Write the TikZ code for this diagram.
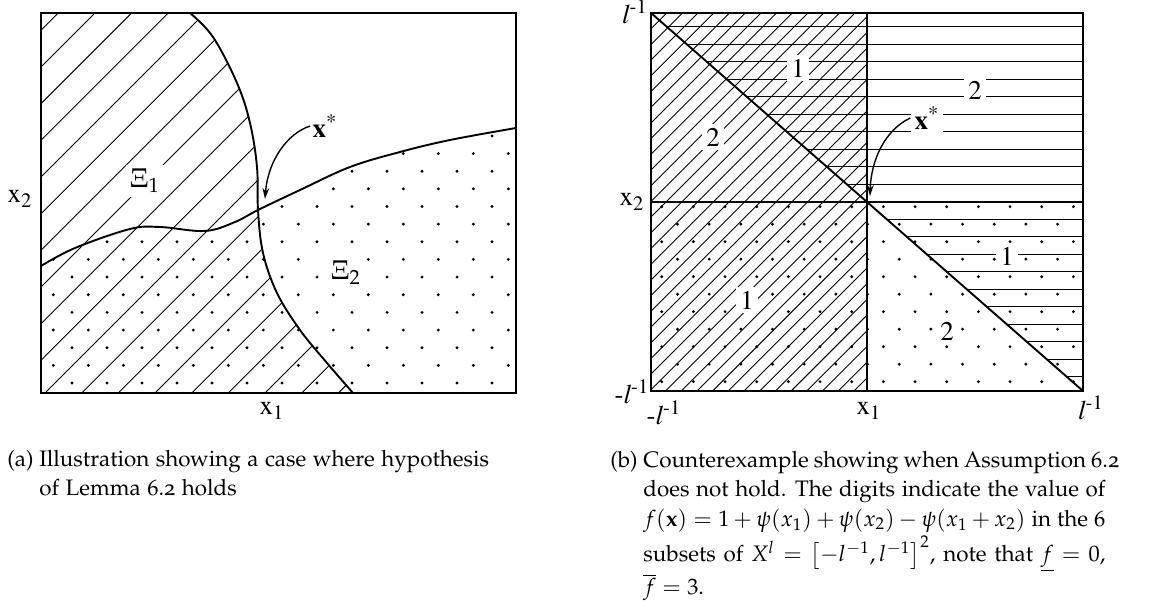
\documentclass[tikz,border=0pt]{standalone}
\usepackage[T1]{fontenc}
\usepackage[osf]{mathpazo}
\usetikzlibrary{arrows.meta}
\newcommand\tmfont{\fontfamily{ptm}\selectfont}
\newcommand\jline[1]{\makebox[231pt][s]{#1}}
\begin{document}
\begin{tikzpicture}[x=0.5pt,y=-0.5pt,
  frame/.style={line width=1.2pt},
  bound/.style={line width=0.95pt},
  hatch/.style={line width=0.45pt},
  lab/.style={font=\tmfont\fontsize{13.5}{16}\selectfont, inner sep=1pt},
  wlab/.style={lab, fill=white, inner sep=2pt},
  captext/.style={font=\fontsize{11.2}{14.75}\selectfont, inner sep=0pt, anchor=base west},
  ptr/.style={line width=0.7pt, -{Stealth[length=5.5pt,width=3.4pt]}}]
\useasboundingbox (0,0) rectangle (1170,608);

% ---------------- left panel ----------------
\begin{scope}
  \clip plot[smooth,tension=0.6] coordinates {(190,13) (213,37) (237,83) (250,123) (257,167) (258,210) (263,253) (277,293) (300,330) (327,363) (353,393)} -- (41,393) -- (41,13) -- cycle;
  \foreach \k in {-11,...,9} {
    \draw[hatch] ({45+36.67*\k-20},413) -- ++(440,-440);
  }
\end{scope}
\begin{scope}
  \clip plot[smooth,tension=0.6] coordinates {(41,266) (75,248) (130,229) (160,227) (205,231) (235,222) (258,210) (300,190) (350,167) (400,152) (450,140) (516,128)} -- (516,393) -- (41,393) -- cycle;
  \foreach \j in {0,...,15} {
    \foreach \i in {0,...,14} {
      \fill ({72-18.7*mod(\j,2)+35*\i},{383-17.65*\j}) circle (1.6);
    }
  }
\end{scope}
\draw[bound] plot[smooth,tension=0.6] coordinates {(190,13) (213,37) (237,83) (250,123) (257,167) (258,210) (263,253) (277,293) (300,330) (327,363) (353,393)};
\draw[bound] plot[smooth,tension=0.6] coordinates {(41,266) (75,248) (130,229) (160,227) (205,231) (235,222) (258,210) (300,190) (350,167) (400,152) (450,140) (516,128)};
\draw[frame] (41,13) rectangle (516,393);

\node[wlab] (xi1) at (145,181) {$\Xi_1$};
\node[wlab] (xi2) at (346,273) {$\Xi_2$};
\node[lab] (xsA) at (325,126) {\textbf{x}\textsuperscript{*}};
\coordinate (pA) at (265,199);
\draw[ptr] (xsA.west) .. controls (288,133) and (268,160) .. (pA);
\node[lab] (x2A) at (20,199) {x\textsubscript{2}};
\node[lab] (x1A) at (272,411) {x\textsubscript{1}};

% ---------------- right panel ----------------
\begin{scope}
  \clip (651,13) rectangle (867,391);
  \foreach \k in {-1,...,38} {
    \draw[hatch] ({666.7+15.7*\k+20},-7) -- ++(-440,440);
  }
\end{scope}
\begin{scope}
  \clip (651,13) -- (1083,13) -- (1083,391) -- cycle;
  \foreach \k in {0,...,20} {
    \draw[hatch] (651,{26.7+17.5*\k}) -- (1083,{26.7+17.5*\k});
  }
\end{scope}
\begin{scope}
  \clip (651,202) rectangle (1083,391);
  \foreach \j in {0,...,10} {
    \foreach \i in {0,...,13} {
      \fill ({661.7+15.8*mod(\j,2)+31.67*\i},{206.7+17.5*\j}) circle (1.6);
    }
  }
\end{scope}
\draw[frame] (867,13) -- (867,391);
\draw[frame] (651,202) -- (1083,202);
\draw[bound] (651,13) -- (1083,391);
\draw[frame] (651,13) rectangle (1083,391);

\node[wlab] (tl1) at (798,68) {1};
\node[wlab] (tl2) at (713,137) {2};
\node[wlab] (tr2) at (975,90) {2};
\node[wlab] (bl1) at (747,300) {1};
\node[wlab] (br1) at (1007,256) {1};
\node[wlab] (br2) at (947,331) {2};
\node[wlab] (xsB) at (927,118) {\textbf{x}\textsuperscript{*}};
\coordinate (pB) at (870,196);
\draw[ptr] (xsB.west) .. controls (885,130) and (871,160) .. (pB);

\node[lab] (ltop) at (635,12) {\textit{l}\textsuperscript{-1}};
\node[lab] (x2B) at (632,202) {x\textsubscript{2}};
\node[lab] (lbot) at (632,392) {-\textit{l}\textsuperscript{-1}};
\node[lab] (lleft) at (664,413) {-\textit{l}\textsuperscript{-1}};
\node[lab] (x1B) at (869,411) {x\textsubscript{1}};
\node[lab] (lright) at (1091,408) {\textit{l}\textsuperscript{-1}};

% ---------------- captions ----------------
\node[captext] (capAl) at (7,466) {(a)};
\node[captext] (capA) at (39,466) {\parbox[t]{231pt}{\raggedright Illustration showing a case where hypothesis\\ of Lemma 6.2 holds}};
\node[captext, anchor=base east] (capBl) at (638,467) {(b)};
\node[captext] (capB) at (643,467) {\parbox[t]{231pt}{%
\jline{Counterexample showing when Assumption 6.2}\\
\jline{does not hold. The digits indicate the value of}\\
\jline{$f(\mathbf{x})=1+\psi(x_1)+\psi(x_2)-\psi(x_1+x_2)$ in the 6}\\[1pt]
\jline{subsets of $X^l=\left[-l^{-1},l^{-1}\right]^2$, note that $\underline{f}=0$,}\\
$\overline{f}=3$.}};
\end{tikzpicture}
\end{document}
